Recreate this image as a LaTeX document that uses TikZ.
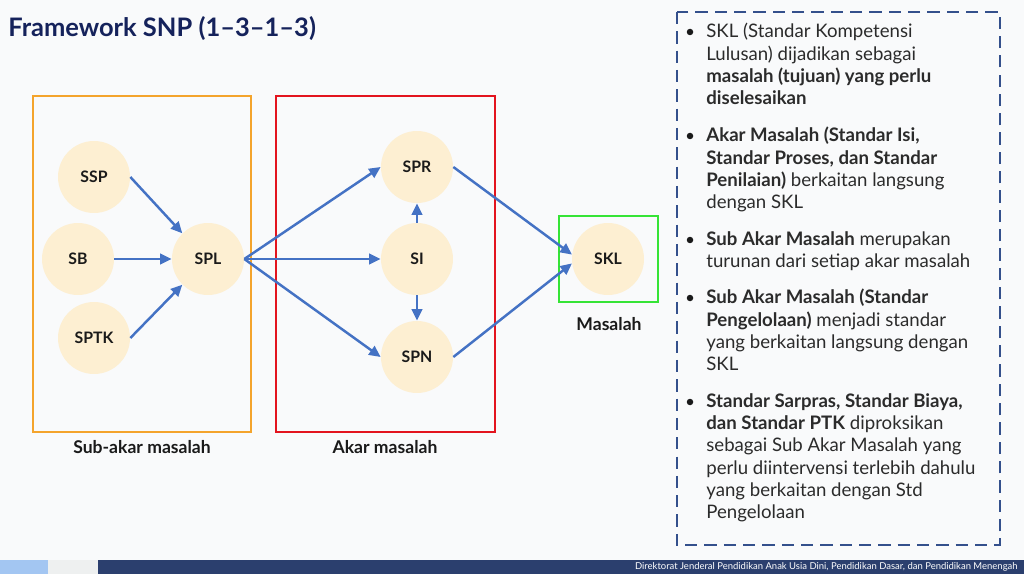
\documentclass[tikz,border=0pt]{standalone}
\usepackage{fontspec}
\setmainfont{Lato}
\usetikzlibrary{arrows.meta,positioning,calc,backgrounds}
\definecolor{titlenavy}{HTML}{15225B}
\definecolor{ink}{HTML}{1A1A1A}
\definecolor{inksoft}{HTML}{2B2B2B}
\definecolor{cream}{HTML}{FDEFD2}
\definecolor{linkblue}{HTML}{4472C4}
\definecolor{subframe}{HTML}{F4A42C}
\definecolor{rootframe}{HTML}{E3141E}
\definecolor{goalframe}{HTML}{36E436}
\definecolor{notesdash}{HTML}{34508C}
\definecolor{pagebg}{HTML}{F9FAFB}
\definecolor{footnavy}{HTML}{2B3F6E}
\definecolor{footblue}{HTML}{A3C6F2}
\definecolor{footgray}{HTML}{EEF0F0}

\begin{document}
\begin{tikzpicture}[
    x=0.02cm,y=-0.02cm,
    >={Triangle[length=2.3mm,width=2.1mm]},
    % --- standard nodes ---------------------------------------------
    std/.style={circle,fill=cream,minimum size=1.44cm,inner sep=0pt,
                text=ink,font=\bfseries\fontsize{9}{10}\selectfont},
    % --- links ------------------------------------------------------
    link/.style={draw=linkblue,line width=1.4pt,->},
    % --- group frames -----------------------------------------------
    frame/.style={line width=1.2pt},
    grouplab/.style={text=ink,font=\bfseries\fontsize{10}{12}\selectfont},
    % --- notes ------------------------------------------------------
    note/.style={anchor=north west,inner sep=0pt,align=left,text=inksoft,
                 font=\fontsize{10.6}{12.7}\selectfont},
    dot/.style={circle,fill=ink,minimum size=1.3mm,inner sep=0pt},
  ]

% =====================================================================
%  Page
% =====================================================================
\useasboundingbox (0,0) rectangle (1024,574);
\fill[pagebg] (0,0) rectangle (1024,574);
\fill[footblue] (0,560) rectangle (48,574);
\fill[footgray] (48,560) rectangle (98,574);
\fill[footnavy] (98,560) rectangle (1024,574);
\node[anchor=east,text=white,inner sep=0pt,font=\fontsize{5.4}{6}\selectfont]
     (foot) at (1018,567)
     {Direktorat Jenderal Pendidikan Anak Usia Dini, Pendidikan Dasar, dan Pendidikan Menengah};

\node[anchor=west,inner sep=0pt,text=titlenavy,font=\bfseries\fontsize{14.5}{17}\selectfont]
     (title) at (8,29) {Framework SNP (1--3--1--3)};

% =====================================================================
%  Group frames
% =====================================================================
\draw[frame,subframe] (33,96) rectangle (251,432);
\draw[frame,rootframe] (276,96) rectangle (495,432);
\draw[frame,goalframe] (559,216) rectangle (658,302);

\node[grouplab] (sublab) at (142,447) {Sub-akar masalah};
\node[grouplab] (rootlab) at (385,447) {Akar masalah};
\node[grouplab] (goallab) at (609,324) {Masalah};

% =====================================================================
%  Standards
% =====================================================================
\node[std] (ssp) at (94,177) {SSP};
\node[std] (sb) at (78,259) {SB};
\node[std] (sptk) at (94,338) {SPTK};
\node[std] (spl) at (208,259) {SPL};
\node[std] (spr) at (417,167) {SPR};
\node[std] (si) at (417,259) {SI};
\node[std] (spn) at (417,357) {SPN};
\node[std] (skl) at (608,259) {SKL};

% ---- sub roots -> SPL -----------------------------------------------
\draw[link] (ssp.east) -- (spl.135);
\draw[link] (sb.east) -- (spl.west);
\draw[link] (sptk.east) -- (spl.225);

% ---- SPL -> roots -----------------------------------------------------
\draw[link] (spl.east) -- (spr.west);
\draw[link] (spl.east) -- (si.west);
\draw[link] (spl.east) -- (spn.west);
\draw[link] (si.north) -- (spr.south);
\draw[link] (si.south) -- (spn.north);

% ---- roots -> SKL -----------------------------------------------------
\draw[link] (spr.east) -- (skl.173);
\draw[link] (spn.east) -- (skl.187);

% =====================================================================
%  Notes panel
% =====================================================================
\draw[notesdash,line width=1.2pt,dash pattern=on 7pt off 4pt] (677,12) rectangle (1000,545);

\node[dot] (d1) at (690,32) {};
\node[note] (n1) at (706,23)
     {SKL (Standar Kompetensi\\ Lulusan) dijadikan sebagai\\
      \textbf{masalah (tujuan) yang perlu}\\ \textbf{diselesaikan}};
\node[dot] (d2) at (690,136) {};
\node[note] (n2) at (706,127)
     {\textbf{Akar Masalah (Standar Isi,}\\ \textbf{Standar Proses, dan Standar}\\
      \textbf{Penilaian)} berkaitan langsung\\ dengan SKL};
\node[dot] (d3) at (690,240) {};
\node[note] (n3) at (706,231)
     {\textbf{Sub Akar Masalah} merupakan\\ turunan dari setiap akar masalah};
\node[dot] (d4) at (690,298) {};
\node[note] (n4) at (706,289)
     {\textbf{Sub Akar Masalah (Standar}\\ \textbf{Pengelolaan)} menjadi standar\\
      yang berkaitan langsung dengan\\ SKL};
\node[dot] (d5) at (690,402) {};
\node[note] (n5) at (706,393)
     {\textbf{Standar Sarpras, Standar Biaya,}\\ \textbf{dan Standar PTK} diproksikan\\
      sebagai Sub Akar Masalah yang\\ perlu diintervensi terlebih dahulu\\
      yang berkaitan dengan Std\\ Pengelolaan};

\end{tikzpicture}
\end{document}
